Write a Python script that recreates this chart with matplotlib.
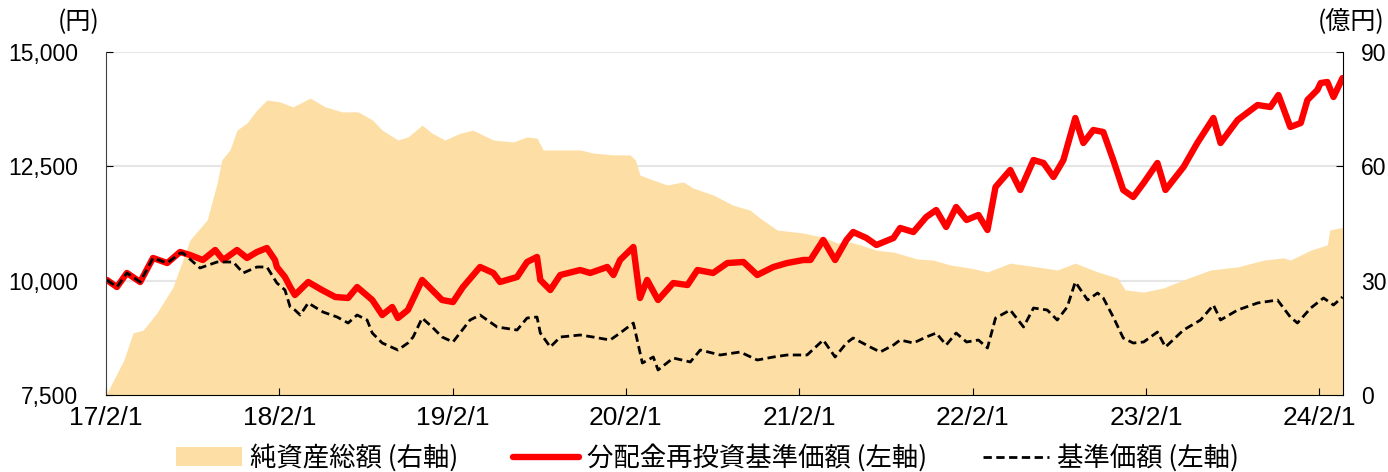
import numpy as np
import pandas as pd
import matplotlib
matplotlib.use("Agg")
import matplotlib.pyplot as plt

plt.rcParams['font.family'] = ['Liberation Sans', 'Noto Sans CJK JP']
jp = ['Noto Sans CJK JP', 'DejaVu Sans']

# 純資産総額 (億円, right axis)
aum_dates = ["2017-02-01", "2017-02-03", "2017-03-10", "2017-03-30", "2017-04-20", "2017-05-19", "2017-06-22",
             "2017-07-28", "2017-09-02", "2017-09-23", "2017-10-03", "2017-10-20", "2017-11-04", "2017-11-25",
             "2017-12-16", "2018-01-06", "2018-02-03", "2018-03-02", "2018-04-07", "2018-05-09", "2018-06-13",
             "2018-07-17", "2018-08-16", "2018-09-06", "2018-10-09", "2018-10-30", "2018-11-29", "2018-12-20",
             "2019-01-16", "2019-02-17", "2019-03-16", "2019-04-28", "2019-06-09", "2019-07-08", "2019-07-29",
             "2019-08-11", "2019-09-16", "2019-10-28", "2019-11-24", "2020-01-06", "2020-02-10", "2020-02-21",
             "2020-03-02", "2020-03-30", "2020-04-28", "2020-06-01", "2020-06-22", "2020-08-03", "2020-09-14",
             "2020-10-20", "2020-11-10", "2020-12-16", "2021-02-09", "2021-03-23", "2021-04-22", "2021-05-19",
             "2021-06-09", "2021-07-13", "2021-08-18", "2021-10-07", "2021-11-10", "2021-12-16", "2022-01-27",
             "2022-03-04", "2022-04-21", "2022-06-17", "2022-07-29", "2022-09-05", "2022-10-22", "2022-12-03",
             "2022-12-19", "2023-01-27", "2023-03-10", "2023-04-21", "2023-06-17", "2023-08-13", "2023-10-07",
             "2023-11-18", "2023-12-02", "2024-01-14", "2024-02-18", "2024-02-23", "2024-03-21"]
aum = [0, 0.5, 9, 16.3, 17.0, 21.5, 28.3, 40.7, 45.9, 55.6, 61.7, 64.3, 69.5, 71.4, 74.8, 77.4, 76.9, 75.6,
       77.9, 75.6, 74.3, 74.3, 72.2, 69.5, 66.9, 67.7, 70.8, 68.7, 66.9, 68.7, 69.5, 66.9, 66.4, 67.7, 67.4,
       64.3, 64.3, 64.3, 63.5, 63.0, 63.0, 61.7, 57.7, 56.4, 55.1, 55.9, 54.3, 52.5, 49.8, 48.5, 46.4, 43.3,
       42.5, 41.4, 39.9, 40.1, 39.4, 38.0, 37.5, 35.7, 35.4, 34.1, 33.3, 32.3, 34.6, 33.6, 32.8, 34.6, 32.3,
       30.7, 27.6, 27.0, 28.1, 30.2, 32.8, 33.6, 35.4, 36.0, 35.4, 38.0, 39.4, 43.3, 44.0]

# 分配金再投資基準価額 (円, left axis)
re_dates = ["2017-02-03", "2017-02-24", "2017-03-17", "2017-04-14", "2017-05-11", "2017-06-10", "2017-07-07",
            "2017-07-28", "2017-08-24", "2017-09-19", "2017-10-06", "2017-11-04", "2017-11-25", "2017-12-16",
            "2018-01-06", "2018-01-23", "2018-01-27", "2018-02-13", "2018-02-24", "2018-03-06", "2018-04-03",
            "2018-05-02", "2018-05-30", "2018-06-26", "2018-07-15", "2018-08-16", "2018-09-06", "2018-09-27",
            "2018-10-09", "2018-10-30", "2018-11-29", "2018-12-20", "2019-01-10", "2019-02-02", "2019-02-23",
            "2019-03-31", "2019-04-28", "2019-05-12", "2019-06-17", "2019-07-08", "2019-07-29", "2019-08-05",
            "2019-08-26", "2019-09-16", "2019-10-28", "2019-11-18", "2019-12-24", "2020-01-06", "2020-01-20",
            "2020-02-17", "2020-03-02", "2020-03-17", "2020-04-09", "2020-05-11", "2020-06-10", "2020-07-01",
            "2020-08-03", "2020-09-02", "2020-10-06", "2020-11-04", "2020-12-08", "2021-01-06", "2021-02-09",
            "2021-02-24", "2021-03-23", "2021-04-17", "2021-05-11", "2021-05-25", "2021-06-22", "2021-07-13",
            "2021-08-18", "2021-09-01", "2021-09-29", "2021-10-26", "2021-11-16", "2021-12-07", "2021-12-28",
            "2022-01-19", "2022-02-13", "2022-03-04", "2022-03-21", "2022-04-21", "2022-05-12", "2022-06-09",
            "2022-06-30", "2022-07-21", "2022-08-11", "2022-09-05", "2022-09-22", "2022-10-13", "2022-11-03",
            "2022-11-24", "2022-12-15", "2023-01-05", "2023-01-27", "2023-02-25", "2023-03-14", "2023-04-21",
            "2023-05-20", "2023-06-23", "2023-07-08", "2023-08-13", "2023-09-24", "2023-10-21", "2023-11-07",
            "2023-12-02", "2023-12-24", "2024-01-07", "2024-01-28", "2024-02-04", "2024-02-18", "2024-03-02",
            "2024-03-21"]
re_nav = [10015, 9861, 10168, 9971, 10496, 10386, 10627, 10561, 10452, 10671,
          10452, 10671, 10496, 10627, 10714, 10452, 10299, 10080, 9861, 9687,
          9971, 9796, 9643, 9621, 9861, 9577, 9249, 9424, 9183, 9358,
          10015, 9796, 9577, 9533, 9861, 10299, 10168, 9971, 10080, 10408,
          10518, 10015, 9796, 10124, 10233, 10168, 10299, 10124, 10452, 10736,
          9621, 10015, 9577, 9949, 9905, 10233, 10168, 10386, 10408, 10124,
          10299, 10386, 10452, 10452, 10890, 10452, 10890, 11064, 10933, 10780,
          10933, 11152, 11064, 11392, 11545, 11174, 11611, 11327, 11436, 11108,
          12048, 12420, 11983, 12638, 12573, 12267, 12638, 13557, 13010, 13294,
          13251, 12638, 11983, 11829, 12136, 12573, 11983, 12485, 13010, 13557,
          13010, 13513, 13841, 13797, 14060, 13360, 13448, 13950, 14169, 14322,
          14344, 14016, 14431]

# 基準価額 (円, left axis)
nav_dates = ["2017-02-03", "2017-02-24", "2017-03-17", "2017-04-14", "2017-05-11", "2017-06-10", "2017-07-07",
             "2017-07-13", "2017-08-18", "2017-09-23", "2017-10-27", "2017-11-17", "2017-12-16", "2018-01-06",
             "2018-01-27", "2018-02-13", "2018-02-24", "2018-03-06", "2018-03-17", "2018-04-03", "2018-05-04",
             "2018-06-03", "2018-06-26", "2018-07-15", "2018-08-05", "2018-08-16", "2018-09-06", "2018-10-09",
             "2018-10-30", "2018-11-10", "2018-11-29", "2018-12-20", "2019-01-10", "2019-02-02", "2019-03-10",
             "2019-03-31", "2019-05-06", "2019-06-17", "2019-07-08", "2019-07-29", "2019-08-05", "2019-08-26",
             "2019-09-16", "2019-10-28", "2019-11-24", "2019-12-30", "2020-01-20", "2020-02-17", "2020-03-07",
             "2020-03-30", "2020-04-09", "2020-05-11", "2020-06-16", "2020-07-07", "2020-08-18", "2020-09-29",
             "2020-11-04", "2020-12-08", "2021-01-06", "2021-02-17", "2021-03-23", "2021-04-17", "2021-05-11",
             "2021-05-25", "2021-06-30", "2021-07-21", "2021-08-18", "2021-09-01", "2021-09-29", "2021-10-26",
             "2021-11-16", "2021-12-07", "2021-12-28", "2022-01-19", "2022-02-13", "2022-03-04", "2022-03-21",
             "2022-04-21", "2022-05-19", "2022-06-09", "2022-07-08", "2022-07-29", "2022-08-19", "2022-09-05",
             "2022-10-01", "2022-10-22", "2022-11-03", "2022-11-24", "2022-12-15", "2023-01-05", "2023-01-27",
             "2023-02-25", "2023-03-14", "2023-04-21", "2023-05-27", "2023-06-23", "2023-07-08", "2023-08-13",
             "2023-09-24", "2023-11-05", "2023-12-02", "2023-12-17", "2024-01-14", "2024-02-10", "2024-03-02",
             "2024-03-21"]
nav = [10015, 9861, 10168, 9971, 10496, 10386, 10600, 10605, 10277, 10408,
       10408, 10168, 10299, 10299, 9949, 9796, 9424, 9358, 9249, 9512,
       9315, 9205, 9074, 9249, 9140, 8855, 8637, 8484, 8637, 8768,
       9183, 8987, 8768, 8659, 9140, 9249, 8987, 8921, 9183, 9205,
       8855, 8549, 8768, 8812, 8768, 8702, 8855, 9074, 8200, 8331,
       8047, 8309, 8222, 8484, 8375, 8440, 8265, 8331, 8375, 8375,
       8702, 8331, 8637, 8746, 8549, 8440, 8593, 8702, 8637, 8768,
       8855, 8593, 8855, 8659, 8702, 8528, 9183, 9358, 8987, 9402,
       9358, 9140, 9424, 9971, 9577, 9730, 9621, 9205, 8746, 8637,
       8659, 8877, 8549, 8921, 9140, 9468, 9140, 9358, 9512, 9577,
       9205, 9074, 9402, 9621, 9468, 9643]

x_ticks = ["2017-02-01", "2018-02-01", "2019-02-01", "2020-02-01",
           "2021-02-01", "2022-02-01", "2023-02-01", "2024-02-01"]
x_labels = ["17/2/1", "18/2/1", "19/2/1", "20/2/1", "21/2/1", "22/2/1", "23/2/1", "24/2/1"]
left_ticks = [7500, 10000, 12500, 15000]
right_ticks = [0, 30, 60, 90]

fig = plt.figure(figsize=(13.88, 4.72), dpi=100)
ax = fig.add_axes([106 / 1388, 1 - 395 / 472, 1237 / 1388, 343 / 472])
ax2 = ax.twinx()
ax.set_zorder(ax2.get_zorder() + 1)
ax.patch.set_visible(False)

fill = ax2.fill_between(pd.to_datetime(aum_dates), 0, aum, color='#FDDFA5', lw=0, zorder=2)
ax2.set_ylim(0, 90)
ax2.set_yticks(right_ticks)
ax2.grid(axis='y', color='#E6E6E6', lw=1.5)
ax2.set_axisbelow(True)

red, = ax.plot(pd.to_datetime(re_dates), re_nav, color='#FF0000', lw=4.6,
               solid_joinstyle='round', solid_capstyle='round')
blk, = ax.plot(pd.to_datetime(nav_dates), nav, color='black', lw=2.0, ls=(0, (3, 1.6)))

ax.set_ylim(7500, 15000)
ax.set_yticks(left_ticks, labels=[f"{v:,}" for v in left_ticks])
ax.set_xlim(pd.Timestamp("2017-02-01"), pd.Timestamp("2024-03-22"))
ax.set_xticks(pd.to_datetime(x_ticks), labels=x_labels)

ax.tick_params(axis='y', direction='in', length=5, pad=20, labelsize=16.5)
ax.tick_params(axis='x', direction='in', length=5, pad=8, labelsize=19)
ax2.tick_params(axis='y', direction='in', length=5, pad=13, labelsize=16.5)

for a in (ax, ax2):
    a.spines['top'].set_visible(False)
ax.spines['right'].set_visible(False)
ax2.spines['left'].set_visible(False)
ax2.spines['bottom'].set_visible(False)
ax.spines['left'].set_color('#404040')
ax.spines['bottom'].set_color('black')
ax2.spines['right'].set_color('black')

fig.text(58 / 1388, 1 - 22 / 472, "(円)", ha='left', va='center', fontsize=18, family=jp)
fig.text(1318 / 1388, 1 - 22 / 472, "(億円)", ha='left', va='center', fontsize=18, family=jp)

fig.legend([fill, red, blk], ["純資産総額 (右軸)", "分配金再投資基準価額 (左軸)", "基準価額 (左軸)"],
           loc='center', bbox_to_anchor=(0.5095, 1 - 458 / 472), ncol=3, frameon=False,
           prop={'family': jp, 'size': 19}, handlelength=2.5, handletextpad=0.3,
           columnspacing=2.1, borderaxespad=0, borderpad=0)

fig.savefig("out.png", dpi=100)
